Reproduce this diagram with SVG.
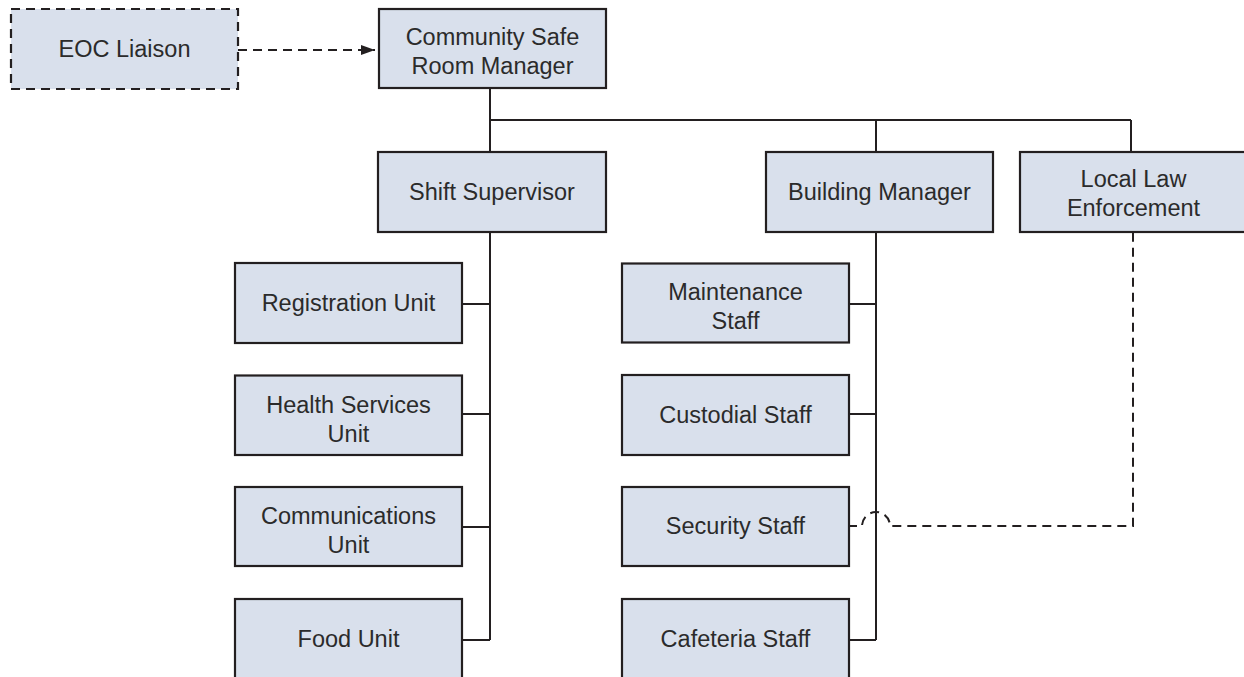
<svg xmlns="http://www.w3.org/2000/svg" width="1244" height="677" viewBox="0 0 1244 677">
  <style>
    .box { fill: #d9e0ec; stroke: #231f20; stroke-width: 2.2; }
    .dashed { stroke-dasharray: 9 6; }
    .lbl { font-family: "Liberation Sans", Arial, sans-serif; font-size: 23.5px; fill: #2b2b2b; text-anchor: middle; }
    .conn { fill: none; stroke: #231f20; stroke-width: 2; }
    .dconn { fill: none; stroke: #231f20; stroke-width: 2; stroke-dasharray: 9 6; }
  </style>
  <defs>
    <marker id="arrow" viewBox="0 0 14 10" refX="14" refY="5" markerWidth="14" markerHeight="10" markerUnits="userSpaceOnUse" orient="auto">
      <path d="M0,0 L14,5 L0,10 Z" fill="#231f20"/>
    </marker>
  </defs>
  <rect width="1244" height="677" fill="#ffffff"/>

  <g id="connectors">
    <path class="dconn" d="M238,50 L375,50" marker-end="url(#arrow)"/>
    <path class="conn" d="M490,88 L490,152"/>
    <path class="conn" d="M490,120 L1131,120"/>
    <path class="conn" d="M876,120 L876,152"/>
    <path class="conn" d="M1131,120 L1131,152"/>
    <path class="conn" d="M490,232 L490,640"/>
    <path class="conn" d="M462,304 L490,304"/>
    <path class="conn" d="M462,414 L490,414"/>
    <path class="conn" d="M462,527 L490,527"/>
    <path class="conn" d="M462,640 L490,640"/>
    <path class="conn" d="M876,232 L876,640"/>
    <path class="conn" d="M848,304 L876,304"/>
    <path class="conn" d="M848,414 L876,414"/>
    <path class="conn" d="M848,640 L876,640"/>
    <path class="dconn" d="M848,526 L862,526 A14,14 0 0 1 890,526 L1133,526 L1133,232"/>
  </g>

  <g id="eoc-liaison">
    <rect class="box dashed" x="11" y="9" width="227" height="80"/>
    <text class="lbl" x="124.5" y="57">EOC Liaison</text>
  </g>
  <g id="community-safe-room-manager">
    <rect class="box" x="379" y="9" width="227" height="79"/>
    <text class="lbl" x="492.5" y="45">Community Safe</text>
    <text class="lbl" x="492.5" y="74">Room Manager</text>
  </g>
  <g id="shift-supervisor">
    <rect class="box" x="378" y="152" width="228" height="80"/>
    <text class="lbl" x="492" y="200">Shift Supervisor</text>
  </g>
  <g id="building-manager">
    <rect class="box" x="766" y="152" width="227" height="80"/>
    <text class="lbl" x="879.5" y="200">Building Manager</text>
  </g>
  <g id="local-law-enforcement">
    <rect class="box" x="1020" y="152" width="227" height="80"/>
    <text class="lbl" x="1133.5" y="187">Local Law</text>
    <text class="lbl" x="1133.5" y="216">Enforcement</text>
  </g>

  <g id="registration-unit">
    <rect class="box" x="235" y="263" width="227" height="80"/>
    <text class="lbl" x="348.5" y="311">Registration Unit</text>
  </g>
  <g id="health-services-unit">
    <rect class="box" x="235" y="375.5" width="227" height="79.5"/>
    <text class="lbl" x="348.5" y="412.5">Health Services</text>
    <text class="lbl" x="348.5" y="441.5">Unit</text>
  </g>
  <g id="communications-unit">
    <rect class="box" x="235" y="487" width="227" height="79"/>
    <text class="lbl" x="348.5" y="524">Communications</text>
    <text class="lbl" x="348.5" y="553">Unit</text>
  </g>
  <g id="food-unit">
    <rect class="box" x="235" y="599" width="227" height="80"/>
    <text class="lbl" x="348.5" y="647">Food Unit</text>
  </g>

  <g id="maintenance-staff">
    <rect class="box" x="622" y="263.5" width="227" height="79"/>
    <text class="lbl" x="735.5" y="299.5">Maintenance</text>
    <text class="lbl" x="735.5" y="328.5">Staff</text>
  </g>
  <g id="custodial-staff">
    <rect class="box" x="622" y="375" width="227" height="80"/>
    <text class="lbl" x="735.5" y="423">Custodial Staff</text>
  </g>
  <g id="security-staff">
    <rect class="box" x="622" y="487" width="227" height="79"/>
    <text class="lbl" x="735.5" y="534">Security Staff</text>
  </g>
  <g id="cafeteria-staff">
    <rect class="box" x="622" y="599" width="227" height="80"/>
    <text class="lbl" x="735.5" y="647">Cafeteria Staff</text>
  </g>
</svg>
